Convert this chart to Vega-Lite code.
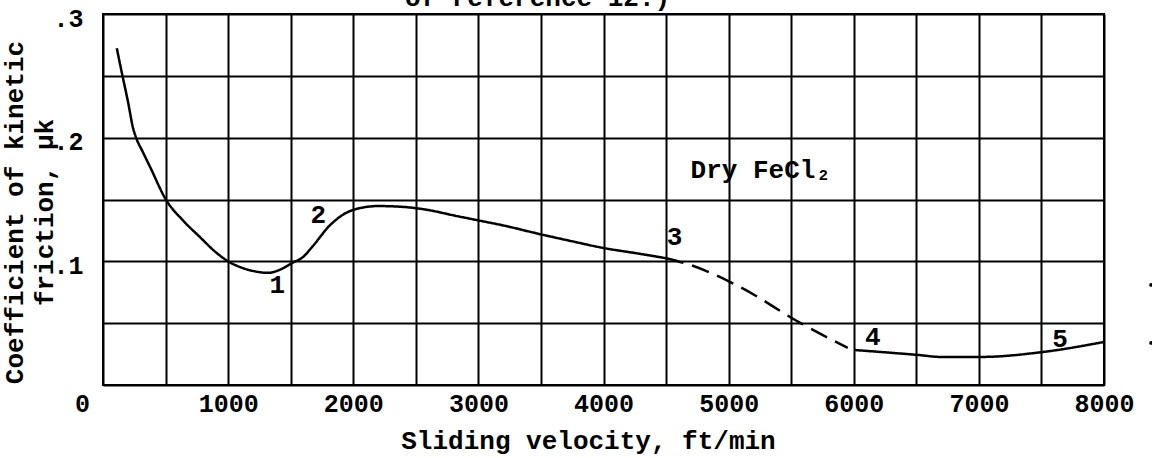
{
  "$schema": "https://vega.github.io/schema/vega-lite/v6.json",
  "width": 1001,
  "height": 371,
  "autosize": {"type": "none"},
  "padding": {"left": 103, "top": 14, "right": 48, "bottom": 73},
  "background": "white",
  "config": {
    "font": "Liberation Mono",
    "view": {"stroke": "black", "strokeWidth": 2},
    "axis": {
      "gridColor": "black", "gridWidth": 2, "gridOpacity": 1,
      "ticks": false, "domain": false,
      "labelFont": "Liberation Mono", "labelFontSize": 25, "labelFontWeight": "bold", "labelColor": "black",
      "titleFont": "Liberation Mono", "titleFontSize": 25, "titleFontWeight": "bold", "titleColor": "black"
    }
  },
  "title": {
    "text": "of reference 12.)",
    "font": "Liberation Mono", "fontSize": 26, "fontWeight": "bold", "color": "black",
    "anchor": "middle", "dx": -66, "dy": 19, "baseline": "alphabetic", "offset": -7
  },
  "datasets": {
    "curve": [
      {"v": 110, "mu": 0.2724, "seg": "a", "style": "solid"},
      {"v": 154, "mu": 0.2508, "seg": "a", "style": "solid"},
      {"v": 200, "mu": 0.2289, "seg": "a", "style": "solid"},
      {"v": 240, "mu": 0.2079, "seg": "a", "style": "solid"},
      {"v": 270, "mu": 0.1985, "seg": "a", "style": "solid"},
      {"v": 310, "mu": 0.1901, "seg": "a", "style": "solid"},
      {"v": 376, "mu": 0.1764, "seg": "a", "style": "solid"},
      {"v": 504, "mu": 0.1497, "seg": "a", "style": "solid"},
      {"v": 640, "mu": 0.133, "seg": "a", "style": "solid"},
      {"v": 776, "mu": 0.1195, "seg": "a", "style": "solid"},
      {"v": 900, "mu": 0.1075, "seg": "a", "style": "solid"},
      {"v": 1000, "mu": 0.1, "seg": "a", "style": "solid"},
      {"v": 1100, "mu": 0.0952, "seg": "a", "style": "solid"},
      {"v": 1200, "mu": 0.0922, "seg": "a", "style": "solid"},
      {"v": 1320, "mu": 0.0907, "seg": "a", "style": "solid"},
      {"v": 1420, "mu": 0.0935, "seg": "a", "style": "solid"},
      {"v": 1512, "mu": 0.0987, "seg": "a", "style": "solid"},
      {"v": 1600, "mu": 0.1036, "seg": "a", "style": "solid"},
      {"v": 1672, "mu": 0.1117, "seg": "a", "style": "solid"},
      {"v": 1816, "mu": 0.1294, "seg": "a", "style": "solid"},
      {"v": 2000, "mu": 0.1416, "seg": "a", "style": "solid"},
      {"v": 2200, "mu": 0.1447, "seg": "a", "style": "solid"},
      {"v": 2400, "mu": 0.144, "seg": "a", "style": "solid"},
      {"v": 2600, "mu": 0.1415, "seg": "a", "style": "solid"},
      {"v": 2800, "mu": 0.1372, "seg": "a", "style": "solid"},
      {"v": 3000, "mu": 0.1331, "seg": "a", "style": "solid"},
      {"v": 3200, "mu": 0.129, "seg": "a", "style": "solid"},
      {"v": 3500, "mu": 0.1218, "seg": "a", "style": "solid"},
      {"v": 3736, "mu": 0.1165, "seg": "a", "style": "solid"},
      {"v": 4000, "mu": 0.1108, "seg": "a", "style": "solid"},
      {"v": 4296, "mu": 0.106, "seg": "a", "style": "solid"},
      {"v": 4500, "mu": 0.1025, "seg": "a", "style": "solid"},
      {"v": 4500, "mu": 0.1025, "seg": "b", "style": "dashed"},
      {"v": 4696, "mu": 0.097, "seg": "b", "style": "dashed"},
      {"v": 5096, "mu": 0.079, "seg": "b", "style": "dashed"},
      {"v": 5576, "mu": 0.05, "seg": "b", "style": "dashed"},
      {"v": 5952, "mu": 0.03, "seg": "b", "style": "dashed"},
      {"v": 6008, "mu": 0.0283, "seg": "c", "style": "solid"},
      {"v": 6512, "mu": 0.0243, "seg": "c", "style": "solid"},
      {"v": 6696, "mu": 0.0227, "seg": "c", "style": "solid"},
      {"v": 7016, "mu": 0.0227, "seg": "c", "style": "solid"},
      {"v": 7512, "mu": 0.0267, "seg": "c", "style": "solid"},
      {"v": 8000, "mu": 0.0348, "seg": "c", "style": "solid"}
    ],
    "labels": [
      {"v": 1392, "mu": 0.081, "label": "1"},
      {"v": 1720, "mu": 0.1375, "label": "2"},
      {"v": 4568, "mu": 0.1193, "label": "3"},
      {"v": 6152, "mu": 0.0392, "label": "4"},
      {"v": 7648, "mu": 0.0372, "label": "5"}
    ],
    "note": [
      {"v": 4696, "mu": 0.1676, "label": "Dry FeCl₂"}
    ],
    "specks": [
      {"v": 8376, "mu": 0.0809},
      {"v": 8376, "mu": 0.034}
    ]
  },
  "encoding": {
    "x": {
      "field": "v", "type": "quantitative",
      "scale": {"domain": [0, 8000], "nice": false, "zero": false},
      "axis": {
        "values": [0, 500, 1000, 1500, 2000, 2500, 3000, 3500, 4000, 4500, 5000, 5500, 6000, 6500, 7000, 7500, 8000],
        "format": "d",
        "labelExpr": "datum.value % 1000 == 0 ? datum.label : ''",
        "labelOffset": {"condition": {"test": "datum.value == 0", "value": -21}, "value": 0},
        "labelPadding": 6,
        "labelBaseline": "top",
        "labelFlush": false,
        "labelOverlap": false,
        "title": "Sliding velocity, ft/min",
        "titleX": 485,
        "titleY": 63,
        "titleAlign": "center",
        "titleBaseline": "alphabetic",
        "titleFontSize": 26
      }
    },
    "y": {
      "field": "mu", "type": "quantitative",
      "scale": {"domain": [0, 0.3], "nice": false},
      "axis": {
        "values": [0, 0.05, 0.1, 0.15, 0.2, 0.25, 0.3],
        "labelExpr": "(datum.value > 0.01 && abs(datum.value * 10 - round(datum.value * 10)) < 0.001) ? replace(format(datum.value, '.1f'), '0.', '.') : ''",
        "labelPadding": 20,
        "labelBaseline": "middle",
        "labelAlign": "right",
        "labelOffset": 4,
        "labelOverlap": false,
        "labelFlush": false,
        "title": ["Coefficient of kinetic", "friction, μk"],
        "titleAngle": -90,
        "titleX": -81,
        "titleY": 198,
        "titleAlign": "center",
        "titleBaseline": "alphabetic",
        "titleLineHeight": 30,
        "titleFontSize": 26
      }
    }
  },
  "layer": [
    {
      "data": {"name": "curve"},
      "mark": {"type": "line", "color": "black", "strokeWidth": 2.5, "interpolate": "monotone"},
      "encoding": {
        "detail": {"field": "seg", "type": "nominal"},
        "strokeDash": {
          "field": "style", "type": "nominal",
          "scale": {"domain": ["solid", "dashed"], "range": [[1, 0], [18, 9]]},
          "legend": null
        }
      }
    },
    {
      "data": {"name": "labels"},
      "mark": {"type": "text", "font": "Liberation Mono", "fontSize": 26, "fontWeight": "bold", "color": "black", "align": "center", "baseline": "middle"},
      "encoding": {"text": {"field": "label", "type": "nominal"}}
    },
    {
      "data": {"name": "note"},
      "mark": {"type": "text", "font": "Liberation Mono", "fontSize": 26, "fontWeight": "bold", "color": "black", "align": "left", "baseline": "alphabetic"},
      "encoding": {"text": {"field": "label", "type": "nominal"}}
    },
    {
      "data": {"name": "specks"},
      "mark": {"type": "point", "filled": true, "color": "black", "size": 14, "opacity": 1}
    }
  ]
}
